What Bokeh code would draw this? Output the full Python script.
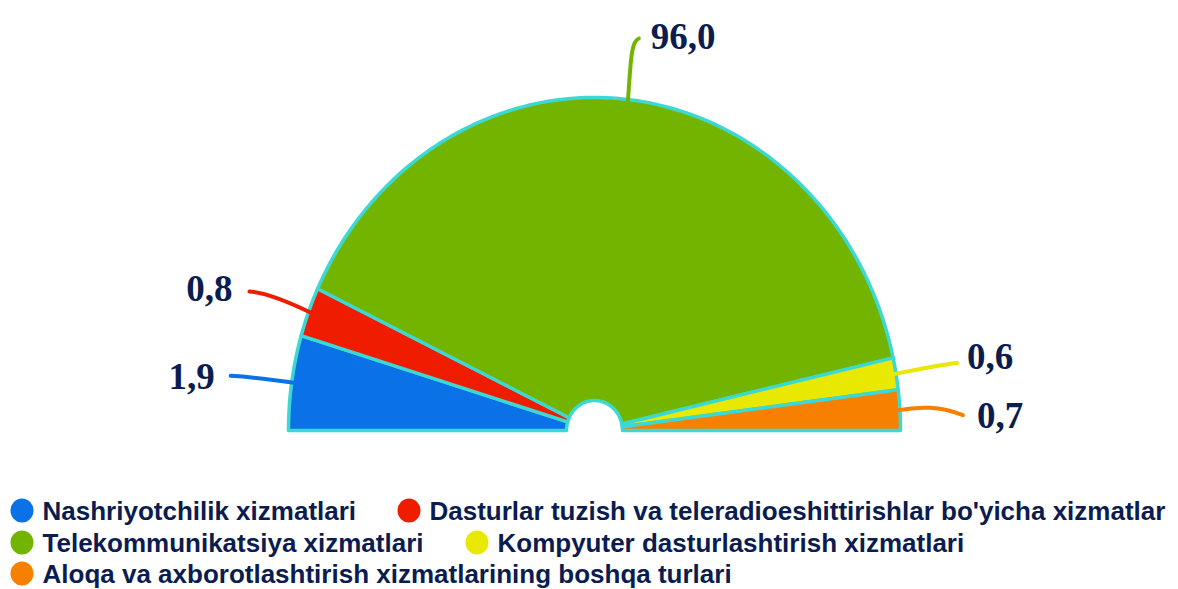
import numpy as np
from bokeh.plotting import figure
from bokeh.models import Range1d, ColumnDataSource
from bokeh.core.properties import value
from bokeh.embed import file_html
from bokeh.resources import INLINE

# ---------------- data ----------------
categories = [
    "Nashriyotchilik xizmatlari",
    "Dasturlar tuzish va teleradioeshittirishlar bo'yicha xizmatlar",
    "Telekommunikatsiya xizmatlari",
    "Kompyuter dasturlashtirish xizmatlari",
    "Aloqa va axborotlashtirish xizmatlarining boshqa turlari",
]
values = [1.9, 0.8, 96.0, 0.6, 0.7]
# share of the half circle each slice occupies as drawn in the picture
drawn_share = [9.2, 4.8, 79.0, 3.1, 3.9]
colors = ["#0A72E6", "#F01C00", "#72B400", "#E8E800", "#F88000"]

# ---------------- styles / layout ----------------
W, H = 1178, 589
cx, cy = 594, 159          # centre of the half ring (pixel-like data units)
rx, ry = 306, 333          # outer radii
hx, hy = 28, 30            # inner hole radii
outline = "#3CD8D4"
text_col = "#0B1C50"

leader_end = [(-63, 7), (-61, 21), (11, 63), (63, 11), (65, -5)]
leader_c0 = [(-20, 3), (-25, 12), (3, 40), (20, 4), (22, 4)]
leader_c1 = [(-45, 6), (-45, 20), (3, 60), (45, 9), (42, 4)]
label_off = [(-16, -1), (-17, 3), (12, 2), (10, 7), (14, 0)]
label_align = ["right", "right", "left", "left", "left"]

legend_pos = [(21.5, 79), (408.5, 79), (21.5, 47), (476.5, 47), (21.5, 16)]

p = figure(width=W, height=H, x_range=Range1d(0, W), y_range=Range1d(0, H),
           toolbar_location=None, output_backend="svg", min_border=0,
           background_fill_color="white", border_fill_color="white")
p.axis.visible = False
p.xgrid.visible = False
p.ygrid.visible = False
p.outline_line_color = None

total = sum(drawn_share)
cum = np.concatenate([[0], np.cumsum(drawn_share)]) / total * np.pi
xs, ys = [], []
mids = []
for i in range(len(values)):
    a0 = np.pi - cum[i]
    a1 = np.pi - cum[i + 1]
    th = np.linspace(a0, a1, 120)
    ox = cx + rx * np.cos(th)
    oy = cy + ry * np.sin(th)
    ix = cx + hx * np.cos(th[::-1])
    iy = cy + hy * np.sin(th[::-1])
    xs.append(list(np.concatenate([ox, ix])))
    ys.append(list(np.concatenate([oy, iy])))
    mids.append((a0 + a1) / 2)

p.patches(xs=xs, ys=ys, fill_color=colors, line_color=outline, line_width=3.5,
          line_join="round")

# leader lines and value labels
x0 = [cx + (rx - 2) * np.cos(m) for m in mids]
y0 = [cy + (ry - 2) * np.sin(m) for m in mids]
x1 = [x0[i] + leader_end[i][0] for i in range(5)]
y1 = [y0[i] + leader_end[i][1] for i in range(5)]
cx0 = [x0[i] + leader_c0[i][0] for i in range(5)]
cy0 = [y0[i] + leader_c0[i][1] for i in range(5)]
cx1 = [x0[i] + leader_c1[i][0] for i in range(5)]
cy1 = [y0[i] + leader_c1[i][1] for i in range(5)]
p.bezier(x0=x0, y0=y0, x1=x1, y1=y1, cx0=cx0, cy0=cy0, cx1=cx1, cy1=cy1,
         line_color=colors, line_width=4, line_cap="round")

lab_src = ColumnDataSource(dict(
    x=[x1[i] + label_off[i][0] for i in range(5)],
    y=[y1[i] + label_off[i][1] for i in range(5)],
    t=[f"{v:.1f}".replace(".", ",") for v in values],
    align=label_align,
))
p.text(x="x", y="y", text="t", text_align="align", text_baseline="middle",
       source=lab_src, text_font=value("Liberation Serif"), text_font_style="bold",
       text_font_size="37px", text_color=text_col)

# legend (flow layout as in the picture)
p.ellipse(x=[q[0] for q in legend_pos], y=[q[1] for q in legend_pos],
          width=23, height=24, fill_color=colors, line_color=None)
p.text(x=[q[0] + 20.5 for q in legend_pos], y=[q[1] for q in legend_pos],
       text=categories, text_baseline="middle", text_align="left",
       text_font=value("Liberation Sans"), text_font_style="bold",
       text_font_size="26px", text_color=text_col)

open("out.html", "w").write(file_html(p, INLINE))
